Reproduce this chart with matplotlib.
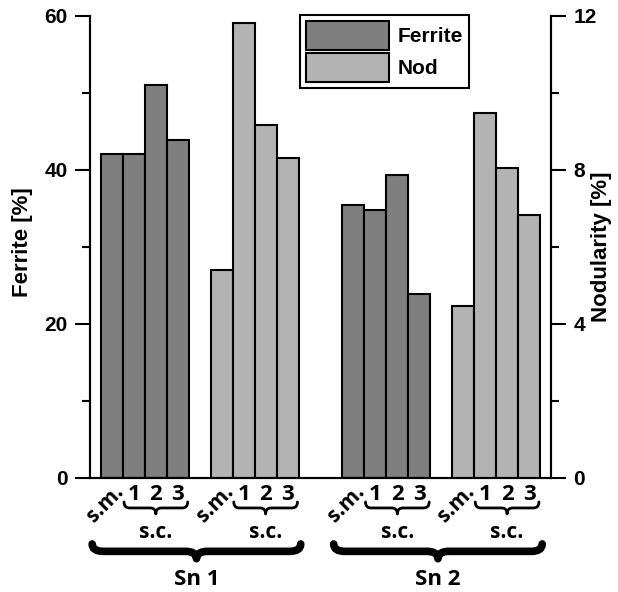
import matplotlib
matplotlib.use("Agg")
import matplotlib.pyplot as plt
from matplotlib.path import Path
from matplotlib.patches import PathPatch, Patch
from matplotlib.transforms import blended_transform_factory
from matplotlib.ticker import MultipleLocator

# data
samples = ["s.m.", "1", "2", "3"]
ferrite_sn1 = [42.1, 42.0, 51.0, 43.9]
nod_sn1 = [5.40, 11.81, 9.16, 8.30]
ferrite_sn2 = [35.4, 34.8, 39.3, 23.8]
nod_sn2 = [4.46, 9.47, 8.04, 6.83]
groups = ["Sn 1", "Sn 2"]

dark = "#7f7f7f"
light = "#b3b3b3"
lab_font = ["Open Sans", "DejaVu Sans"]
plt.rcParams["font.family"] = ["Liberation Sans", "DejaVu Sans"]
plt.rcParams["font.weight"] = "bold"

fig = plt.figure(figsize=(6.18, 5.92), dpi=100)
ax = fig.add_axes([0.1456, 0.1934, 0.746, 0.7796])
ax2 = ax.twinx()

# bar positions: 4 ferrite, gap 1, 4 nod, gap 2, 4 ferrite, gap 1, 4 nod
pos_f1 = [0, 1, 2, 3]
pos_n1 = [5, 6, 7, 8]
pos_f2 = [11, 12, 13, 14]
pos_n2 = [16, 17, 18, 19]

kw = dict(width=1.0, edgecolor="black", linewidth=1.5)
ax.bar(pos_f1, ferrite_sn1, color=dark, **kw)
ax.bar(pos_f2, ferrite_sn2, color=dark, **kw)
ax2.bar(pos_n1, nod_sn1, color=light, **kw)
ax2.bar(pos_n2, nod_sn2, color=light, **kw)

ax.set_xlim(-1, 20)
ax.set_ylim(0, 60)
ax2.set_ylim(0, 12)
ax.yaxis.set_major_locator(MultipleLocator(20))
ax.yaxis.set_minor_locator(MultipleLocator(10))
ax2.yaxis.set_major_locator(MultipleLocator(4))
ax2.yaxis.set_minor_locator(MultipleLocator(2))
ax.set_xticks([])

for a in (ax, ax2):
    a.spines["top"].set_visible(False)
    for s in a.spines.values():
        s.set_linewidth(1.5)
    a.tick_params(axis="y", which="major", length=11, width=1.5, pad=5, labelsize=15)
    a.tick_params(axis="y", which="minor", length=6, width=1.5)
    for t in a.get_yticklabels():
        t.set_fontweight("bold")

fig.text(0.037, 0.591, "Ferrite [%]", rotation=90, ha="center", va="center",
         fontsize=16, fontweight="bold")
fig.text(0.974, 0.584, "Nodularity [%]", rotation=90, ha="center", va="center",
         fontsize=16, fontweight="bold")

leg = ax.legend(handles=[Patch(facecolor=dark, edgecolor="black", linewidth=1.5, label="Ferrite"),
                         Patch(facecolor=light, edgecolor="black", linewidth=1.5, label="Nod")],
                loc="upper left", bbox_to_anchor=(0.455, 1.003), fancybox=False,
                edgecolor="black", framealpha=1, fontsize=15, handlelength=4.0,
                handleheight=1.75, labelspacing=0.15, handletextpad=0.4, borderpad=0.3,
                borderaxespad=0)
leg.get_frame().set_linewidth(1.5)
for t in leg.get_texts():
    t.set_fontweight("bold")

trans = blended_transform_factory(ax.transData, ax.transAxes)


def brace(x0, x1, y, depth, r, lw):
    xm = (x0 + x1) / 2
    verts = [(x0, y + depth), (x0, y), (x0 + r, y), (x0 + r, y),
             (xm - r, y), (xm, y), (xm, y - depth),
             (xm, y), (xm + r, y),
             (x1 - r, y), (x1 - r, y), (x1, y), (x1, y + depth)]
    codes = [Path.MOVETO, Path.CURVE3, Path.CURVE3, Path.LINETO,
             Path.LINETO, Path.CURVE3, Path.CURVE3,
             Path.CURVE3, Path.CURVE3,
             Path.LINETO, Path.LINETO, Path.CURVE3, Path.CURVE3]
    ax.add_patch(PathPatch(Path(verts, codes), transform=trans, fill=False,
                           edgecolor="black", linewidth=lw, clip_on=False,
                           capstyle="round", joinstyle="round"))


for pos in (pos_f1, pos_n1, pos_f2, pos_n2):
    for p, s in zip(pos, samples):
        if s == "s.m.":
            ax.text(p + 0.05, -0.008, s, transform=trans, rotation=45,
                    rotation_mode="anchor", ha="right", va="top",
                    fontsize=15, fontweight="bold", family=lab_font)
        else:
            ax.text(p, -0.036, s, transform=trans, ha="center", va="center",
                    fontsize=16, fontweight="bold", family=lab_font)
    brace(pos[1] - 0.45, pos[3] + 0.45, -0.066, 0.013, 0.25, 2.0)
    ax.text(pos[2], -0.12, "s.c.", transform=trans, ha="center", va="center",
            fontsize=15, fontweight="bold", family=lab_font)

for (f, n), g in zip([(pos_f1, pos_n1), (pos_f2, pos_n2)], groups):
    x0 = f[0] - 0.9
    x1 = n[-1] + 0.6
    brace(x0, x1, -0.16, 0.016, 0.5, 5.5)
    ax.text((x0 + x1) / 2, -0.222, g, transform=trans, ha="center", va="center",
            fontsize=16, fontweight="bold", family=lab_font)

fig.savefig("out.png", dpi=100)
